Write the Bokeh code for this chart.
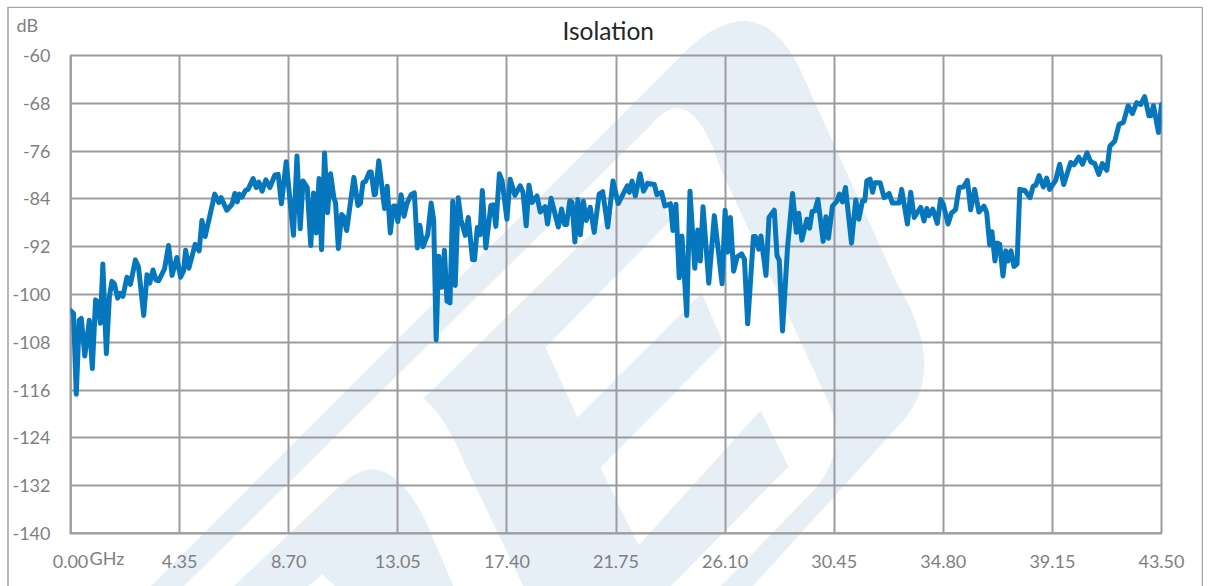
from bokeh.plotting import figure
from bokeh.layouts import column
from bokeh.models import ColumnDataSource, FixedTicker, NumeralTickFormatter, Label, Span
from bokeh.embed import file_html
from bokeh.resources import INLINE

FREQ_GHZ = [
 0,.12,.23,.35,.43,.57,.75,.87,1.0,1.09,1.19,1.29,1.43,1.55,1.65,1.75,1.88,1.99,2.09,2.25,2.39,2.59,2.71,2.92,3.05,3.16,3.29,3.41,3.51,3.75,3.91,4.05,4.24,4.39,4.51,4.59,4.72,4.97,5.13,5.24,5.37,5.75,5.91,6.01,6.23,6.44,6.55,6.65,6.73,6.84,6.97,7.08,7.28,7.41,7.51,7.64,7.79,7.95,8.15,8.28,8.41,8.6,
 8.89,9.03,9.16,9.27,9.44,9.58,9.69,9.8,9.91,10.01,10.13,10.25,10.37,10.5,10.57,10.68,10.81,10.88,11.01,11.3,11.46,11.56,11.66,11.76,11.92,11.99,12.11,12.16,12.29,12.52,12.63,12.75,12.88,12.96,13.05,13.18,13.3,13.42,13.58,13.71,13.83,13.93,14.05,14.24,14.38,14.48,14.58,14.68,14.8,14.91,15.01,15.13,15.24,15.34,15.46,15.57,15.74,15.86,16.03,16.11,16.22,16.33,16.42,16.56,16.76,16.86,16.96,17.1,17.21,
 17.4,17.53,17.72,17.93,18.04,18.17,18.28,18.4,18.6,18.73,18.92,19.02,19.16,19.45,19.58,19.7,19.78,19.91,20.0,20.11,20.23,20.33,20.45,20.56,20.72,20.88,21.08,21.22,21.42,21.63,21.84,22.2,22.28,22.39,22.52,22.71,22.85,23.01,23.28,23.38,23.57,23.7,23.92,24.02,24.14,24.27,24.38,24.57,24.7,24.89,25.01,25.11,25.22,25.45,25.67,25.98,
 26.1,26.2,26.31,26.44,26.58,26.76,26.87,27.0,27.23,27.31,27.44,27.53,27.73,27.85,28.06,28.17,28.26,28.39,28.59,28.79,28.94,29.04,29.16,29.36,29.47,29.57,29.68,29.8,30.01,30.12,30.22,30.38,30.55,30.66,30.78,30.9,31.14,31.31,31.43,31.58,31.67,31.75,31.88,31.98,32.07,32.28,32.44,32.64,32.77,33.04,33.14,33.37,33.5,33.64,33.9,34.03,34.14,34.23,34.38,34.56,34.69,34.8,34.99,35.12,
 35.29,35.43,35.6,35.76,35.89,36.05,36.22,36.42,36.53,36.65,36.74,36.86,36.95,37.05,37.18,37.29,37.38,37.5,37.62,37.74,37.85,38.05,38.26,38.38,38.49,38.62,38.79,38.92,39.04,39.28,39.44,39.6,39.88,40.01,40.2,40.35,40.53,40.68,40.84,41.0,41.14,41.32,41.44,41.64,41.81,41.98,42.17,42.34,42.51,42.67,42.83,43.0,43.07,43.18,43.38,43.5]

ISOLATION_DB = [
 -102.7,-103.2,-116.7,-104.3,-104,-110.3,-104.3,-112.4,-100.9,-101.3,-104.8,-94.9,-109.9,-100.4,-97.8,-98.2,-100.6,-99.8,-100.3,-97.1,-98.3,-94.2,-95.4,-103.5,-96.7,-98.1,-95.9,-97.6,-97.7,-95.7,-91.8,-96.8,-93.8,-97.1,-96,-92.6,-95.6,-91.6,-92.7,-87.6,-90.3,-83.2,-84.6,-83.8,-85.9,-84.9,-83.1,-84.5,-83.2,-83.7,-82.6,-82.4,-80.6,-82.1,-81.2,-82.7,-80.8,-82.1,-80,-79.9,-84.8,-77.8,
 -90.1,-76.8,-89,-81,-82.1,-91.8,-83,-89.7,-80.6,-92.5,-76.3,-86.3,-79.8,-83.8,-84.7,-92.3,-86.6,-86.9,-89.3,-80.4,-85.1,-84.7,-81.3,-81.1,-79.5,-79.5,-83.3,-83.2,-77.6,-85.6,-81.9,-89.7,-85.2,-85.2,-87.8,-83.3,-86.9,-84.7,-83.3,-83,-92.2,-88.4,-92,-90,-84.7,-87.5,-107.6,-93.6,-98.8,-92.6,-101.1,-101.4,-84.4,-98.5,-83.8,-87.5,-90.1,-87.1,-94.2,-94.2,-88.8,-90,-82.6,-92.2,-85.1,-85,-88.6,-79.8,-81,
 -87.4,-80.7,-83.4,-81.8,-82.9,-88.5,-81.7,-84.6,-83.5,-86.2,-85.3,-88.2,-83.9,-88.7,-85.7,-88.3,-88.3,-84.3,-84.6,-91.2,-84.1,-90,-84.4,-87.6,-85.4,-89.6,-83.2,-82.8,-88.7,-81,-84.8,-81.8,-82.9,-81,-83.5,-79.8,-82.7,-81.4,-81.6,-83.3,-82.9,-85.2,-84.8,-89.3,-84.9,-97.2,-90.2,-103.5,-82.7,-95.6,-89.2,-94.4,-85.3,-98.1,-86.8,-98.2,
 -85.9,-92.9,-87.1,-96.1,-93.7,-93.2,-94.1,-104.9,-90.3,-90.3,-92.4,-90.2,-96.8,-87.1,-85.9,-93.5,-94.3,-106.1,-92.1,-83.1,-89.6,-86.4,-90.9,-87.4,-88.9,-86.1,-86,-84.1,-91.1,-87,-90.6,-85.2,-84.4,-83.2,-84.5,-82.1,-91.4,-84.2,-87.4,-84.3,-84.3,-81,-80.7,-82.9,-81.3,-81.3,-83.8,-83.1,-84.7,-84.7,-82.4,-88.2,-82.9,-87.1,-85.4,-87.7,-85.6,-86.8,-85.7,-88.1,-84.1,-84.9,-88.2,-86.4,
 -85.8,-82.1,-82,-80.9,-85.8,-82.4,-86.2,-85.2,-86.3,-91.7,-89.5,-94.4,-91.4,-91.6,-96.9,-92.7,-94.4,-92.7,-95.3,-94.9,-82.4,-82.6,-83.8,-81.9,-81.7,-80.1,-82,-80.5,-82.4,-80.9,-78.2,-81.6,-77.9,-78.3,-77,-78.2,-76.3,-77.8,-78.1,-79.9,-78.1,-79.2,-75.2,-74.3,-71.5,-71.2,-68.4,-69.7,-67.9,-68.2,-66.9,-70.1,-70.1,-68.4,-72.9,-68.2]

X_TICKS = [0, 4.35, 8.70, 13.05, 17.40, 21.75, 26.10, 30.45, 34.80, 39.15, 43.50]
Y_TICKS = [-60, -68, -76, -84, -92, -100, -108, -116, -124, -132, -140]

TITLE = "Isolation"
Y_UNIT = "dB"
X_UNIT = "GHz"

GRID = "#9C9CA0"
TEXT = "#7F7F7F"
WASH = "#E6EEF6"
FONT = "Lato"
OX, OY = 6, 6   # page position of the figure's canvas
W, H = 1197, 580
FL, FR, FT, FB = 70, 1161, 54, 533  # page position of the plot frame


def bend(a, c, b, n=14):
    """Quadratic curve from a to b about c, for the round parts of the pale logo."""
    out = []
    for i in range(n + 1):
        t = i / n
        out.append(((1-t)**2*a[0] + 2*t*(1-t)*c[0] + t*t*b[0], (1-t)**2*a[1] + 2*t*(1-t)*c[1] + t*t*b[1]))
    return out


# pale logo behind the chart, page pixels
WM_OUTER = [(150,586)] + bend((690,46),(760,-15),(800,70)) + bend((895,280),(950,370),(900,423)) + [(752,586),(720,586)] \
    + bend((815,488),(850,445),(825,395)) + bend((720,168),(690,75),(650,125)) + [(183,586)]
WM_MIDDLE = bend((423,398),(445,415),(465,465),6) + [(523,586),(670,586),(788,466),(760,410),(638,545),(600,467),(723,343),(650,175)]
WM_NOTCH = [(545,347),(670,220),(701,293),(577,417)]
WM_ARCH = [(233,586)] + bend((340,485),(385,440),(425,520)) + [(453,586),(335,586),(322,574),(307,586)]

# back sheet: the page itself, in page pixels
back = figure(width=W, height=H, output_backend="svg", toolbar_location=None,
              x_range=(OX, OX + W), y_range=(OY + H, OY), min_border=0,
              min_border_left=0, min_border_right=0, min_border_top=0, min_border_bottom=0,
              x_axis_location=None, y_axis_location=None, frame_align=False,
              background_fill_color="white", border_fill_color="white",
              margin=(OY, 0, 0, OX))
back.grid.visible = False
back.outline_line_color = None
for poly, colour in ((WM_OUTER, WASH), (WM_MIDDLE, WASH), (WM_ARCH, WASH), (WM_NOTCH, "white")):
    back.patch([a for a, _ in poly], [b for _, b in poly], fill_color=colour, line_color=None)
back.line([7.5, 7.5, 1202, 1202], [600, 6.8, 6.8, 600], line_color="#A6A6A8", line_width=1.6)
back.add_layout(Label(x=16, y=24, text=Y_UNIT, text_font=FONT, text_font_size="18px",
                      text_color=TEXT, text_baseline="middle"))
back.add_layout(Label(x=89, y=557, text=X_UNIT, text_font=FONT, text_font_size="18px",
                      text_color=TEXT, text_baseline="middle"))

# the chart, transparent, laid over the sheet
p = figure(width=W, height=H, output_backend="svg", toolbar_location=None,
           x_range=(0, 43.5), y_range=(-140, -60), frame_align=False,
           min_border_left=FL-OX, min_border_right=OX+W-FR, min_border_top=FT-OY, min_border_bottom=OY+H-FB,
           background_fill_color=None, border_fill_color=None,
           margin=(-H, 0, 0, OX))

p.title.text = TITLE
p.title.text_font = FONT
p.title.text_font_size = "24.5px"
p.title.text_font_style = "normal"
p.title.text_color = "#262626"
p.title.align = "left"
p.title.offset = 492
p.title.vertical_align = "top"
p.title.standoff = 18

for ax, ticks in ((p.xaxis[0], X_TICKS), (p.yaxis[0], Y_TICKS)):
    ax.ticker = FixedTicker(ticks=ticks)
    ax.axis_line_color = None
    ax.major_tick_line_color = None
    ax.minor_tick_line_color = None
    ax.major_tick_out = 0
    ax.major_tick_in = 0
    ax.major_label_text_font = FONT
    ax.major_label_text_font_size = "18px"
    ax.major_label_text_color = TEXT
p.xaxis[0].formatter = NumeralTickFormatter(format="0.00")
p.yaxis[0].formatter = NumeralTickFormatter(format="0")
p.xaxis[0].major_label_standoff = 21
p.yaxis[0].major_label_standoff = 20

p.xgrid.ticker = FixedTicker(ticks=X_TICKS)
p.ygrid.ticker = FixedTicker(ticks=Y_TICKS)
for g in (p.xgrid[0], p.ygrid[0]):
    g.grid_line_color = GRID
    g.grid_line_width = 2
p.outline_line_color = GRID
p.outline_line_width = 2
p.add_layout(Span(location=0, dimension="height", line_color=GRID, line_width=2.6, level="underlay"))
p.add_layout(Span(location=-140, dimension="width", line_color=GRID, line_width=2.6, level="underlay"))

src = ColumnDataSource(dict(f=FREQ_GHZ, v=ISOLATION_DB))
p.line("f", "v", source=src, line_color="#0777BD", line_width=5, line_join="round", line_cap="round")

page = column(back, p)
open("out.html", "w").write(file_html(page, INLINE))
